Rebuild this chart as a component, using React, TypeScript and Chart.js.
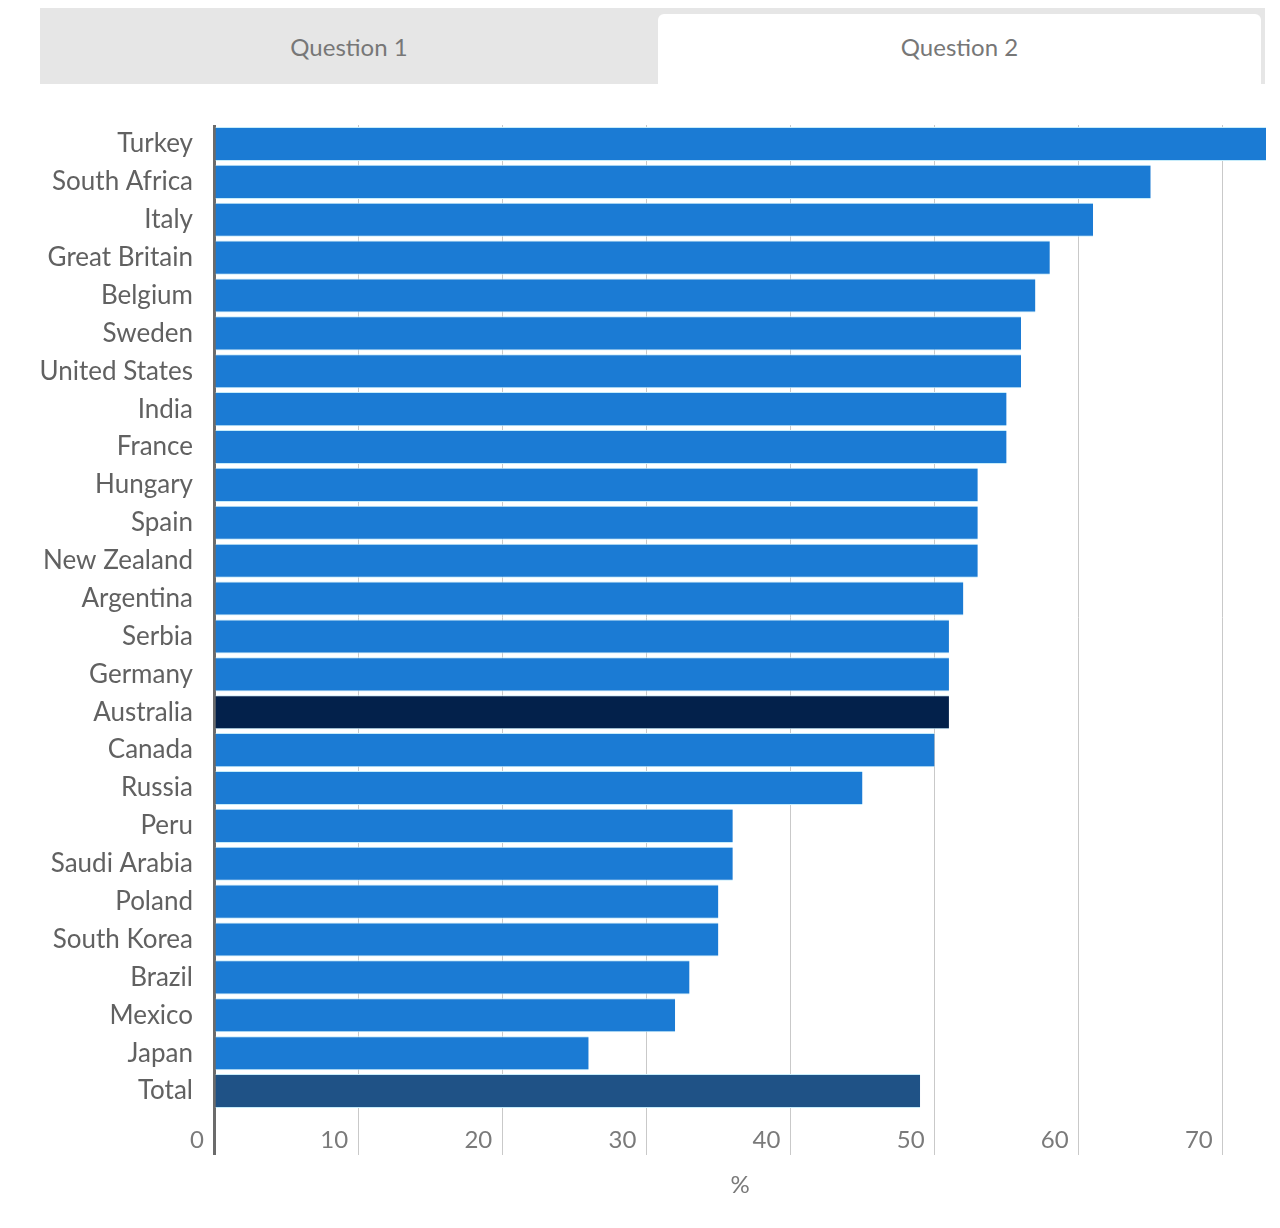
import React, { useEffect, useRef } from "react";
import { Chart, registerables } from "chart.js";

Chart.register(...registerables);

const countries = [
  "Turkey", "South Africa", "Italy", "Great Britain", "Belgium", "Sweden",
  "United States", "India", "France", "Hungary", "Spain", "New Zealand",
  "Argentina", "Serbia", "Germany", "Australia", "Canada", "Russia", "Peru",
  "Saudi Arabia", "Poland", "South Korea", "Brazil", "Mexico", "Japan", "Total",
];
const percentages = [
  73, 65, 61, 58, 57, 56, 56, 55, 55, 53, 53, 53, 52, 51, 51, 51, 50, 45, 36,
  36, 35, 35, 33, 32, 26, 49,
];
const tabs = ["Question 1", "Question 2"];

const FONT = "Lato, 'Open Sans', sans-serif";

const barColor = (label: string) => {
  if (label === "Australia") return "#03214b";
  if (label === "Total") return "#1f5286";
  return "#1b7bd4";
};

const App: React.FC = () => {
  const canvasRef = useRef<HTMLCanvasElement | null>(null);
  const chartRef = useRef<Chart | null>(null);

  useEffect(() => {
    if (!canvasRef.current) return;
    const ctx = canvasRef.current.getContext("2d");
    if (!ctx) return;

    chartRef.current = new Chart(ctx, {
      type: "bar",
      data: {
        labels: countries,
        datasets: [
          {
            data: percentages,
            backgroundColor: countries.map(barColor),
            borderColor: "#c6ecfa",
            borderWidth: { top: 1, bottom: 1, left: 0, right: 0 },
            borderSkipped: false,
            barPercentage: 0.9,
            categoryPercentage: 1,
          },
        ],
      },
      options: {
        indexAxis: "y",
        responsive: true,
        maintainAspectRatio: false,
        animation: false,
        layout: { padding: { top: 41, right: 6, left: 0, bottom: 0 } },
        plugins: {
          legend: { display: false },
          tooltip: { enabled: false },
        },
        scales: {
          x: {
            min: 0,
            max: 73,
            border: { display: false },
            grid: {
              color: (c) => (c.tick && c.tick.value === 0 ? "#6b6b6b" : "#c9c9c9"),
              lineWidth: (c) => (c.tick && c.tick.value === 0 ? 3 : 1),
              tickLength: 45,
              z: 0,
            },
            ticks: {
              stepSize: 10,
              includeBounds: false,
              align: "end",
              labelOffset: -10,
              padding: -29,
              color: "#7a7a7a",
              font: { family: FONT, size: 24 },
            },
            title: {
              display: true,
              text: "%",
              color: "#7a7a7a",
              font: { family: FONT, size: 24 },
              padding: { top: 0, bottom: 20 },
            },
            afterFit: (scale) => {
              scale.height = 110;
            },
          },
          y: {
            border: { display: false },
            grid: { display: false, drawTicks: false },
            ticks: {
              padding: 21,
              color: "#616161",
              font: { family: FONT, size: 26 },
            },
            afterFit: (scale) => {
              scale.width = 206;
            },
          },
        },
      },
    });

    return () => {
      chartRef.current?.destroy();
      chartRef.current = null;
    };
  }, []);

  return (
    <div style={{ width: 1264, fontFamily: FONT }}>
      <div
        style={{
          marginLeft: 32,
          width: 1225,
          height: 76,
          background: "#e6e6e6",
          display: "flex",
          boxSizing: "border-box",
        }}
      >
        <div
          style={{
            width: 618,
            display: "flex",
            alignItems: "center",
            justifyContent: "center",
            color: "#777",
            fontSize: 24,
          }}
        >
          {tabs[0]}
        </div>
        <div
          style={{
            flex: 1,
            marginTop: 6,
            marginRight: 4,
            background: "#fff",
            borderRadius: "6px 6px 0 0",
            display: "flex",
            alignItems: "center",
            justifyContent: "center",
            paddingBottom: 6,
            color: "#777",
            fontSize: 24,
          }}
        >
          {tabs[1]}
        </div>
      </div>
      <div style={{ position: "relative", width: 1264, height: 1136 }}>
        <canvas ref={canvasRef} />
      </div>
    </div>
  );
};

export default App;
